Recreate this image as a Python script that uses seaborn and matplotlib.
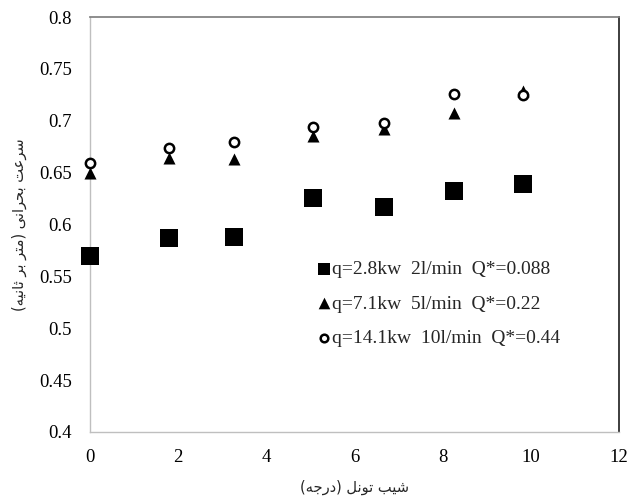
import matplotlib
matplotlib.use("Agg")
import matplotlib.pyplot as plt
import seaborn as sns
import pandas as pd
from matplotlib.ticker import FuncFormatter

# ---- data ----
slope = [0, 1.79, 3.27, 5.06, 6.67, 8.25, 9.83]
v_q1 = [0.570, 0.587, 0.588, 0.626, 0.617, 0.632, 0.639]
v_q2 = [0.650, 0.664, 0.663, 0.685, 0.692, 0.707, 0.729]
v_q3 = [0.659, 0.674, 0.680, 0.694, 0.698, 0.726, 0.725]
labels = ["q=2.8kw  2l/min  Q*=0.088",
          "q=7.1kw  5l/min  Q*=0.22",
          "q=14.1kw  10l/min  Q*=0.44"]
x_ticks = [0, 2, 4, 6, 8, 10, 12]
y_ticks = [0.4, 0.45, 0.5, 0.55, 0.6, 0.65, 0.7, 0.75, 0.8]

# Persian axis titles, shaped (presentation forms) and in visual order
xlabel = ("(" + "\uFEEA\uFE9F\uFEAD\uFEA9" + ")" + " " +
          "\uFEDE\uFEE7\uFEEE\uFE97" + " " + "\uFE90\uFEF4\uFEB7")
ylabel = ("(" + "\uFEEA\uFEF4\uFEE7\uFE8E\uFE9B" + " " + "\uFEAE\uFE91" + " " +
          "\uFEAE\uFE98\uFEE3" + ")" + " " +
          "\uFEF0\uFEE7\uFE8D\uFEAE\uFEA4\uFE91" + " " + "\uFE96\uFECB\uFEAE\uFEB3")

sns.set_theme(style="white")
plt.rcParams['font.family'] = ['Liberation Serif', 'DejaVu Sans']

fig = plt.figure(figsize=(6.27, 5.01), dpi=100)
ax = fig.add_axes([90/627, 1 - 432/501, (619-90)/627, (432-17)/501])

df1 = pd.DataFrame({"x": slope, "y": v_q1})
df2 = pd.DataFrame({"x": slope, "y": v_q2})
df3 = pd.DataFrame({"x": slope, "y": v_q3})

sns.scatterplot(data=df1, x="x", y="y", marker="s", s=150, color="black",
                edgecolor="black", linewidth=0, label=labels[0], ax=ax,
                zorder=3, clip_on=False)
sns.scatterplot(data=df2, x="x", y="y", marker="^", s=75, color="black",
                edgecolor="black", linewidth=0, label=labels[1], ax=ax,
                zorder=4, clip_on=False)
sns.scatterplot(data=df3, x="x", y="y", marker="o", s=45, facecolor="white",
                edgecolor="black", linewidth=1.8, label=labels[2], ax=ax,
                zorder=5, clip_on=False)

ax.set_xlim(0, 12)
ax.set_ylim(0.4, 0.8)
ax.set_xticks(x_ticks)
ax.set_yticks(y_ticks)
ax.yaxis.set_major_formatter(FuncFormatter(lambda v, p: f"{v:g}"))
ax.tick_params(axis="both", length=0, labelsize=13.5, colors="black")
ax.tick_params(axis="y", pad=13)
ax.tick_params(axis="x", pad=12)

for side in ["left", "bottom"]:
    ax.spines[side].set_color("#bfbfbf")
    ax.spines[side].set_linewidth(1.0)
ax.spines["top"].set_color("#808080")
ax.spines["right"].set_color("#262626")
for sp in ax.spines.values():
    sp.set_visible(True)
    sp.set_zorder(1)

ax.set_xlabel(xlabel, fontsize=10.5, family="DejaVu Sans", labelpad=10)
ax.set_ylabel(ylabel, fontsize=10.5, family="DejaVu Sans", labelpad=9)

leg = ax.legend(loc="upper left", bbox_to_anchor=(0.427, 0.414), frameon=False,
                fontsize=14, handletextpad=0.05, handlelength=0.8,
                labelspacing=0.88, borderaxespad=0, borderpad=0)
for h, sz in zip(leg.legend_handles, [80, 70, 30]):
    try:
        h.set_sizes([sz])
    except Exception:
        pass

fig.savefig("out.png", dpi=100)
